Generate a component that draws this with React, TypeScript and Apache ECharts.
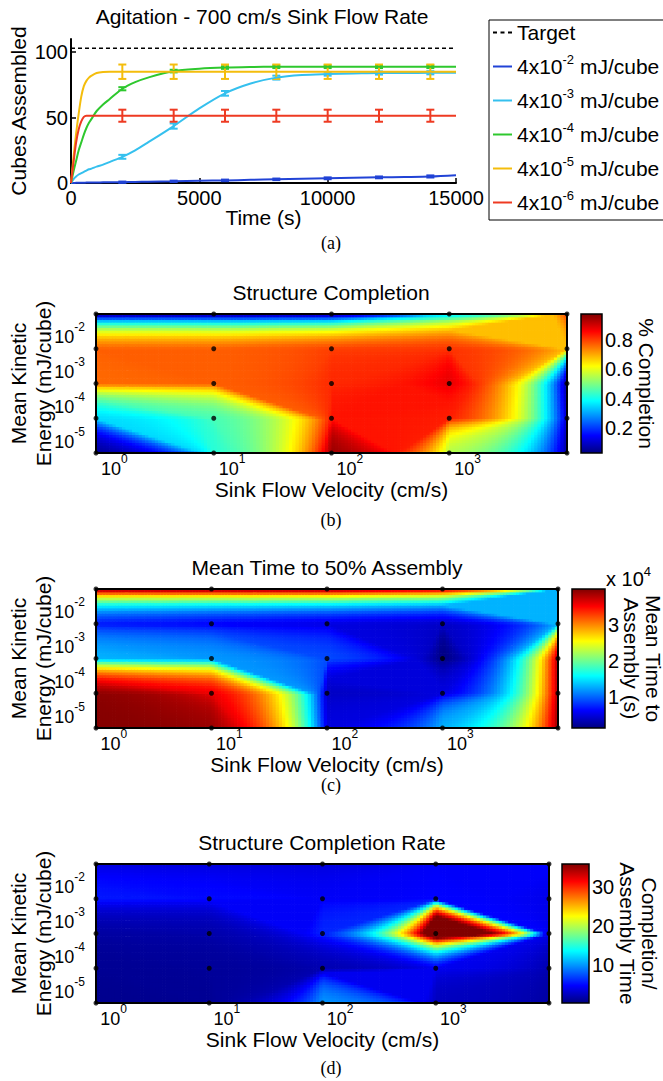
import React, { useEffect, useRef } from 'react';
import * as echarts from 'echarts';

const FONT = '"Liberation Sans", Arial, Helvetica, sans-serif';
const SERIF = '"Liberation Serif", "Times New Roman", serif';

// ---------- Panel (a): cubes assembled vs time ----------
const timeS = [0, 100, 200, 300, 400, 500, 600, 700, 800, 1000, 1250, 1500, 2000, 2500, 3000, 4000, 5000, 6000, 7000, 8000, 9000, 10000, 11000, 12000, 13000, 14000, 15000];
const targetCubes = 103;
const seriesNames = ['4x10-2 mJ/cube', '4x10-3 mJ/cube', '4x10-4 mJ/cube', '4x10-5 mJ/cube', '4x10-6 mJ/cube'];
const seriesColors = ['#2143d6', '#35c0ee', '#2ec82e', '#f4bd0c', '#ee3a22'];
const cubes4e2 = [0, 0.05, 0.1, 0.15, 0.2, 0.25, 0.3, 0.35, 0.4, 0.45, 0.5, 0.55, 0.6, 0.8, 1.0, 1.3, 1.7, 2.0, 2.4, 2.8, 3.2, 3.6, 4.0, 4.3, 4.6, 5.0, 6.0];
const cubes4e3 = [0, 3, 5, 6.5, 7.5, 8.5, 9.5, 10.5, 11, 12.5, 14, 16, 20, 25, 31, 43.5, 57, 68.5, 76, 80.5, 82.5, 83.2, 83.6, 84, 84, 84.2, 84.2];
const cubes4e4 = [0, 9, 17, 25, 31, 37, 42, 46, 49, 55, 60, 64, 72, 77, 80.5, 85.5, 87.3, 88.2, 88.6, 88.8, 88.8, 88.8, 88.8, 88.8, 88.8, 88.8, 88.8];
const cubes4e5 = [0, 20, 38, 53, 66, 74, 78, 80.5, 82, 84, 84.8, 85, 85, 85, 85, 85, 85, 85, 85, 85, 85, 85, 85, 85, 85, 85, 85];
const cubes4e6 = [0, 16, 31, 41, 47, 50.5, 51.4, 51.4, 51.4, 51.4, 51.4, 51.4, 51.4, 51.4, 51.4, 51.4, 51.4, 51.4, 51.4, 51.4, 51.4, 51.4, 51.4, 51.4, 51.4, 51.4, 51.4];
const errTimes = [2000, 4000, 6000, 8000, 10000, 12000, 14000];
const err4e2 = [0.5, 0.5, 0.6, 0.6, 0.7, 0.7, 0.8];
const err4e3 = [1.5, 2.0, 1.8, 1.5, 1.2, 1.2, 1.2];
const err4e4 = [1.2, 1.0, 1.0, 1.0, 1.0, 1.0, 1.0];
const err4e5 = [5.5, 5.5, 5.5, 5.5, 5.5, 5.5, 5.5];
const err4e6 = [4.6, 4.6, 4.6, 4.6, 4.6, 4.6, 4.6];
const allCubes = [cubes4e2, cubes4e3, cubes4e4, cubes4e5, cubes4e6];
const allErr = [err4e2, err4e3, err4e4, err4e5, err4e6];

// ---------- Panels (b)-(d): grids over sink flow velocity x kinetic energy ----------
const flowVelocity = [0.7, 7, 70, 700, 7000];
const kineticEnergy = [4e-6, 4e-5, 4e-4, 4e-3, 4e-2];
// rows: kineticEnergy (bottom -> top), columns: flowVelocity
const completionFrac = [
  [0.05, 0.42, 0.95, 0.55, 0.06],
  [0.35, 0.45, 0.84, 0.83, 0.1],
  [0.76, 0.77, 0.82, 0.88, 0.06],
  [0.77, 0.77, 0.8, 0.81, 0.68],
  [0.04, 0.04, 0.05, 0.35, 0.8],
];
const meanTimeS = [
  [39800, 39000, 5000, 13000, 39000],
  [39500, 36000, 4000, 5000, 38000],
  [13000, 12000, 9000, 1400, 38000],
  [7000, 6000, 5000, 4000, 13000],
  [39800, 39800, 39800, 37000, 12000],
];
const completionRate = [
  [0.8, 1.0, 10, 2.5, 1.5],
  [1.0, 1.2, 2.0, 4.2, 2.0],
  [1.5, 1.8, 6, 47, 4],
  [5.5, 5.0, 4.5, 4.8, 4.0],
  [3.5, 3.5, 3.5, 4.5, 5.0],
];
const completionRange = [0.03, 0.975];
const completionTicks = [0.2, 0.4, 0.6, 0.8];
const meanTimeRange = [1400, 40000];
const meanTimeTicks = [10000, 20000, 30000];
const rateRange = [0.3, 35.9];
const rateTicks = [10, 20, 30];

function clamp01(v: number) { return Math.max(0, Math.min(1, v)); }
function jetColor(t: number) {
  t = clamp01(t);
  const r = clamp01(1.5 - Math.abs(4 * t - 3));
  const g = clamp01(1.5 - Math.abs(4 * t - 2));
  const b = clamp01(1.5 - Math.abs(4 * t - 1));
  return `rgb(${Math.round(r * 255)},${Math.round(g * 255)},${Math.round(b * 255)})`;
}
const jetStops = [0, 0.125, 0.375, 0.625, 0.875, 1].map((o) => ({ offset: o, color: jetColor(o) }));

// ----- filled-contour style evaluation inside one grid cell -----
// corners: 0 = bottom-left, 1 = bottom-right, 2 = top-right, 3 = top-left (display fractions)
const CORNERS = [[0, 0], [1, 0], [1, 1], [0, 1]];
function dispFrac(t: number, r: number) { return Math.log(1 + t * (r - 1)) / Math.log(r); }
function inPoly(x: number, y: number, pg: number[][]) {
  let inside = false;
  for (let i = 0, j = pg.length - 1; i < pg.length; j = i++) {
    const xi = pg[i][0], yi = pg[i][1], xj = pg[j][0], yj = pg[j][1];
    if ((yi > y) !== (yj > y) && x < ((xj - xi) * (y - yi)) / (yj - yi + 1e-15) + xi) inside = !inside;
  }
  return inside;
}
function cellValue(fx: number, fy: number, v: number[], rx: number, ry: number) {
  const edgePoint = (k: number, w: number) => {
    const a = CORNERS[k], b = CORNERS[(k + 1) % 4];
    if (a[1] === b[1]) return [a[0] === 0 ? dispFrac(w, rx) : dispFrac(1 - w, rx), a[1]];
    return [a[0], a[1] === 0 ? dispFrac(w, ry) : dispFrac(1 - w, ry)];
  };
  const abovePolys = (lev: number) => {
    const ab = v.map((x) => x >= lev);
    const pts: number[][] = [];
    const cross: number[][] = [];
    for (let k = 0; k < 4; k++) {
      const k2 = (k + 1) % 4;
      if (ab[k]) pts.push(CORNERS[k]);
      if (ab[k] !== ab[k2]) {
        const ep = edgePoint(k, (lev - v[k]) / (v[k2] - v[k]));
        pts.push(ep);
        cross[k] = ep;
      }
    }
    if (ab[0] === ab[2] && ab[1] === ab[3] && ab[0] !== ab[1]) {
      const vc = (v[0] + v[1] + v[2] + v[3]) / 4;
      if (vc < lev) {
        if (ab[0]) return [[CORNERS[0], cross[0], cross[3]], [CORNERS[2], cross[1], cross[2]]];
        return [[CORNERS[1], cross[1], cross[0]], [CORNERS[3], cross[2], cross[3]]];
      }
    }
    return [pts];
  };
  let lo = Math.min(...v), hi = Math.max(...v);
  if (hi - lo < 1e-12) return lo;
  for (let it = 0; it < 16; it++) {
    const mid = (lo + hi) / 2;
    const polys = abovePolys(mid);
    if (polys.some((pg) => pg.length >= 3 && inPoly(fx, fy, pg))) lo = mid; else hi = mid;
  }
  return (lo + hi) / 2;
}

function heatRenderer(values: number[][], range: number[]) {
  return (params: any, api: any) => {
    const i = api.value(2);
    const j = api.value(3);
    const xa = flowVelocity[i], xb = flowVelocity[i + 1];
    const ya = kineticEnergy[j], yb = kineticEnergy[j + 1];
    const p0 = api.coord([xa, ya]);
    const p1 = api.coord([xb, yb]);
    const corner = [values[j][i], values[j][i + 1], values[j + 1][i + 1], values[j + 1][i]];
    const NX = 36, NY = 13;
    const cw = (p1[0] - p0[0]) / NX;
    const ch = (p0[1] - p1[1]) / NY;
    const children: any[] = [];
    for (let a = 0; a < NX; a++) {
      const fx = (a + 0.5) / NX;
      for (let b = 0; b < NY; b++) {
        const fy = (b + 0.5) / NY;
        const val = cellValue(fx, fy, corner, xb / xa, yb / ya);
        children.push({
          type: 'rect',
          shape: { x: p0[0] + a * cw, y: p0[1] - (b + 1) * ch, width: cw + 0.7, height: ch + 0.7 },
          style: { fill: jetColor((val - range[0]) / (range[1] - range[0])) },
        });
      }
    }
    return { type: 'group', children };
  };
}

function colorbarRenderer(range: number[]) {
  return (params: any, api: any) => {
    const p0 = api.coord([0, range[0]]);
    const p1 = api.coord([1, range[1]]);
    return {
      type: 'rect',
      shape: { x: p0[0], y: p1[1], width: p1[0] - p0[0], height: p0[1] - p1[1] },
      style: { fill: new echarts.graphic.LinearGradient(0, 1, 0, 0, jetStops) },
    };
  };
}

function errRenderer(color: string) {
  return (params: any, api: any) => {
    const t = api.value(0), m = api.value(1), e = api.value(2);
    const hi = api.coord([t, m + e]);
    const lo = api.coord([t, m - e]);
    const cap = 4;
    const st = { stroke: color, lineWidth: 2 };
    return {
      type: 'group',
      children: [
        { type: 'line', shape: { x1: hi[0], y1: hi[1], x2: lo[0], y2: lo[1] }, style: st },
        { type: 'line', shape: { x1: hi[0] - cap, y1: hi[1], x2: hi[0] + cap, y2: hi[1] }, style: st },
        { type: 'line', shape: { x1: lo[0] - cap, y1: lo[1], x2: lo[0] + cap, y2: lo[1] }, style: st },
      ],
    };
  };
}

const supRich = {
  b: { fontSize: 18, lineHeight: 23, fontFamily: FONT, color: '#000', verticalAlign: 'bottom' },
  s: { fontSize: 12, lineHeight: 8, height: 8, fontFamily: FONT, color: '#000', verticalAlign: 'top' },
};
function powLabel(v: number) {
  const l = Math.log10(v);
  const e = Math.round(l);
  if (Math.abs(l - e) > 1e-6) return '';
  return `{b|10}{s|${e}}`;
}

const nameStyle = { fontSize: 21, fontFamily: FONT, color: '#000', lineHeight: 25 };
const xNameStyle = { fontSize: 21, fontFamily: FONT, color: '#000', lineHeight: 20 };

const heatPanels = [
  { grid: { left: 96, top: 314, width: 471, height: 139 }, cb: { left: 581, top: 314, width: 21, height: 139 }, values: completionFrac, range: completionRange, ticks: completionTicks, cbName: '% Completion', cbGap: 33, fmt: (v: number) => String(v) },
  { grid: { left: 96, top: 589, width: 462, height: 139 }, cb: { left: 572, top: 589, width: 33, height: 139 }, values: meanTimeS, range: meanTimeRange, ticks: meanTimeTicks, cbName: 'Mean Time to\nAssembly (s)', cbGap: 15, fmt: (v: number) => String(v / 10000) },
  { grid: { left: 96, top: 864, width: 453, height: 139 }, cb: { left: 562, top: 864, width: 27, height: 139 }, values: completionRate, range: rateRange, ticks: rateTicks, cbName: 'Completion/\nAssembly Time', cbGap: 27, fmt: (v: number) => String(v) },
];

const SOLID_ICON = 'path://M0,0H19V2H0Z';
const DASH_ICON = 'path://M0,0H4V2H0ZM7.5,0H11.5V2H7.5ZM15,0H19V2H15Z';

function buildOption() {
  const grids: any[] = [{ left: 71, top: 39, width: 385, height: 144, show: false, outerBoundsMode: 'none' }];
  const xAxes: any[] = [{
    type: 'value', gridIndex: 0, min: 0, max: 15000, interval: 5000,
    axisLine: { lineStyle: { color: '#000', width: 2 } },
    axisTick: { inside: true, length: 5, lineStyle: { color: '#000', width: 1.5 } },
    axisLabel: { fontSize: 20, color: '#000', fontFamily: FONT, margin: 5, formatter: (v: number) => String(v) },
    splitLine: { show: false },
    name: 'Time (s)', nameLocation: 'middle', nameGap: 24, nameMoveOverlap: false,
    nameTextStyle: { fontSize: 21, fontFamily: FONT, color: '#000' },
  }];
  const yAxes: any[] = [{
    type: 'value', gridIndex: 0, min: 0, max: 110,
    axisLine: { show: true, lineStyle: { color: '#000', width: 2 } },
    axisTick: { show: true, inside: true, length: 5, customValues: [0, 50, 100], lineStyle: { color: '#000', width: 1.5 } },
    axisLabel: { fontSize: 20, color: '#000', fontFamily: FONT, margin: 3, customValues: [0, 50, 100] },
    splitLine: { show: false },
    name: 'Cubes Assembled', nameLocation: 'middle', nameGap: 42, nameMoveOverlap: false,
    nameTextStyle: { fontSize: 21, fontFamily: FONT, color: '#000', lineHeight: 22 },
  }];
  const series: any[] = [];

  series.push({
    name: 'Target', type: 'line', xAxisIndex: 0, yAxisIndex: 0, symbol: 'none',
    data: [[timeS[0], targetCubes], [timeS[timeS.length - 1], targetCubes]],
    lineStyle: { color: '#000', width: 1.5, type: [4, 3] }, itemStyle: { color: '#000' },
  });
  seriesNames.forEach((nm, k) => {
    series.push({
      name: nm, type: 'line', xAxisIndex: 0, yAxisIndex: 0, symbol: 'none', smooth: 0.3,
      data: timeS.map((t, idx) => [t, allCubes[k][idx]]),
      lineStyle: { color: seriesColors[k], width: 2 }, itemStyle: { color: seriesColors[k] },
    });
  });
  seriesNames.forEach((nm, k) => {
    series.push({
      type: 'custom', xAxisIndex: 0, yAxisIndex: 0, silent: true, z: 3,
      renderItem: errRenderer(seriesColors[k]),
      encode: { x: 0, y: 1 },
      data: errTimes.map((t, idx) => [t, allCubes[k][timeS.indexOf(t)], allErr[k][idx]]),
    });
  });

  const cells: number[][] = [];
  for (let i = 0; i < flowVelocity.length - 1; i++) {
    for (let j = 0; j < kineticEnergy.length - 1; j++) {
      cells.push([flowVelocity[i], kineticEnergy[j], i, j]);
    }
  }
  const dots: number[][] = [];
  flowVelocity.forEach((x) => kineticEnergy.forEach((y) => dots.push([x, y])));

  heatPanels.forEach((p, k) => {
    const gi = 1 + k;
    grids.push({ ...p.grid, show: true, z: 10, borderColor: '#000', borderWidth: 2, backgroundColor: 'rgba(0,0,0,0)', outerBoundsMode: 'none' });
    xAxes.push({
      type: 'log', logBase: 10, gridIndex: gi, min: 0.7, max: 7000,
      axisLine: { show: false }, axisTick: { show: false }, splitLine: { show: false },
      axisLabel: { formatter: powLabel, rich: supRich, margin: 2, showMinLabel: true, showMaxLabel: true },
      name: 'Sink Flow Velocity (cm/s)', nameLocation: 'middle', nameGap: 26, nameMoveOverlap: false,
      nameTextStyle: xNameStyle,
    });
    yAxes.push({
      type: 'log', logBase: 10, gridIndex: gi, min: 4e-6, max: 4e-2,
      axisLine: { show: false }, axisTick: { show: false }, splitLine: { show: false },
      axisLabel: { formatter: powLabel, rich: supRich, margin: 11 },
      name: 'Mean Kinetic\nEnergy (mJ/cube)', nameLocation: 'middle', nameGap: 40, nameMoveOverlap: false,
      nameTextStyle: nameStyle,
    });
    series.push({
      type: 'custom', xAxisIndex: gi, yAxisIndex: gi, silent: true, z: 2,
      renderItem: heatRenderer(p.values, p.range),
      encode: { x: 0, y: 1 },
      data: cells,
    });
    series.push({
      type: 'scatter', xAxisIndex: gi, yAxisIndex: gi, silent: true, z: 12, clip: false,
      symbolSize: 5, itemStyle: { color: '#000' }, data: dots,
    });
  });

  heatPanels.forEach((p, k) => {
    const gi = 4 + k;
    grids.push({ ...p.cb, show: true, z: 10, borderColor: '#000', borderWidth: 1.5, backgroundColor: 'rgba(0,0,0,0)', outerBoundsMode: 'none' });
    xAxes.push({ type: 'value', gridIndex: gi, min: 0, max: 1, show: false });
    yAxes.push({
      type: 'value', gridIndex: gi, position: 'right', min: p.range[0], max: p.range[1],
      axisLine: { show: false }, axisTick: { show: false }, splitLine: { show: false },
      axisLabel: { customValues: p.ticks, formatter: p.fmt, fontSize: 20, color: '#000', fontFamily: FONT, margin: 3 },
      name: p.cbName, nameLocation: 'middle', nameRotate: -90, nameGap: p.cbGap, nameMoveOverlap: false,
      nameTextStyle: { fontSize: 21, fontFamily: FONT, color: '#000', lineHeight: 22 },
    });
    series.push({
      type: 'custom', xAxisIndex: gi, yAxisIndex: gi, silent: true, z: 2,
      renderItem: colorbarRenderer(p.range), encode: { x: 0, y: 1 },
      data: [[0.5, (p.range[0] + p.range[1]) / 2]],
    });
  });

  const txt = (text: string, x: number, y: number, size: number, family = FONT, align = 'center', rich?: any) => ({
    type: 'text', x, y, silent: true, z: 20,
    style: { text, fontSize: size, fontFamily: family, fill: '#000', textAlign: align, textVerticalAlign: 'middle', verticalAlign: 'middle', rich },
  });

  const graphic = [
    txt('Agitation - 700 cm/s Sink Flow Rate', 262, 16, 21),
    txt('Structure Completion', 331, 292, 21),
    txt('Mean Time to 50% Assembly', 327, 567, 21),
    txt('Structure Completion Rate', 322, 842, 21),
    txt('(a)', 331, 243, 18, SERIF),
    txt('(b)', 331, 520, 18, SERIF),
    txt('(c)', 331, 785, 18, SERIF),
    txt('(d)', 331, 1068, 18, SERIF),
    txt('{b|x 10}{s|4}', 606, 579, 20, FONT, 'left', {
      b: { fontSize: 20, lineHeight: 24, fontFamily: FONT, fill: '#000', color: '#000' },
      s: { fontSize: 13, lineHeight: 8, height: 8, fontFamily: FONT, fill: '#000', color: '#000', verticalAlign: 'top' },
    }),
  ];

  return {
    animation: false,
    backgroundColor: '#fff',
    textStyle: { fontFamily: FONT },
    grid: grids,
    xAxis: xAxes,
    yAxis: yAxes,
    legend: {
      data: [{ name: 'Target', icon: DASH_ICON }, ...seriesNames.map((n) => ({ name: n, icon: SOLID_ICON }))],
      orient: 'vertical', left: 489, top: 20,
      padding: [2, 10, 7, 4], itemGap: 10, itemWidth: 19, itemHeight: 22,
      symbolKeepAspect: true,
      borderColor: '#000', borderWidth: 1, backgroundColor: '#fff',
      selectedMode: false,
      formatter: (name: string) => {
        const m = name.match(/^4x10(-\d) (.*)$/);
        if (!m) return `{b|${name}}`;
        return `{b|4x10}{s|${m[1]}}{b| ${m[2]}}`;
      },
      textStyle: {
        fontSize: 21, color: '#000', fontFamily: FONT,
        rich: {
          b: { fontSize: 21, lineHeight: 22, fontFamily: FONT, color: '#000' },
          s: { fontSize: 13, lineHeight: 8, height: 8, fontFamily: FONT, color: '#000', verticalAlign: 'top' },
        },
      },
    },
    graphic,
    series,
  };
}

export default function App() {
  const ref = useRef<HTMLDivElement>(null);
  useEffect(() => {
    if (!ref.current) return;
    const chart = echarts.init(ref.current, undefined, { renderer: 'svg' });
    chart.setOption(buildOption() as any);
    return () => chart.dispose();
  }, []);
  return <div ref={ref} style={{ position: 'absolute', left: 0, top: 0, width: 663, height: 1081, background: '#fff' }} />;
}
